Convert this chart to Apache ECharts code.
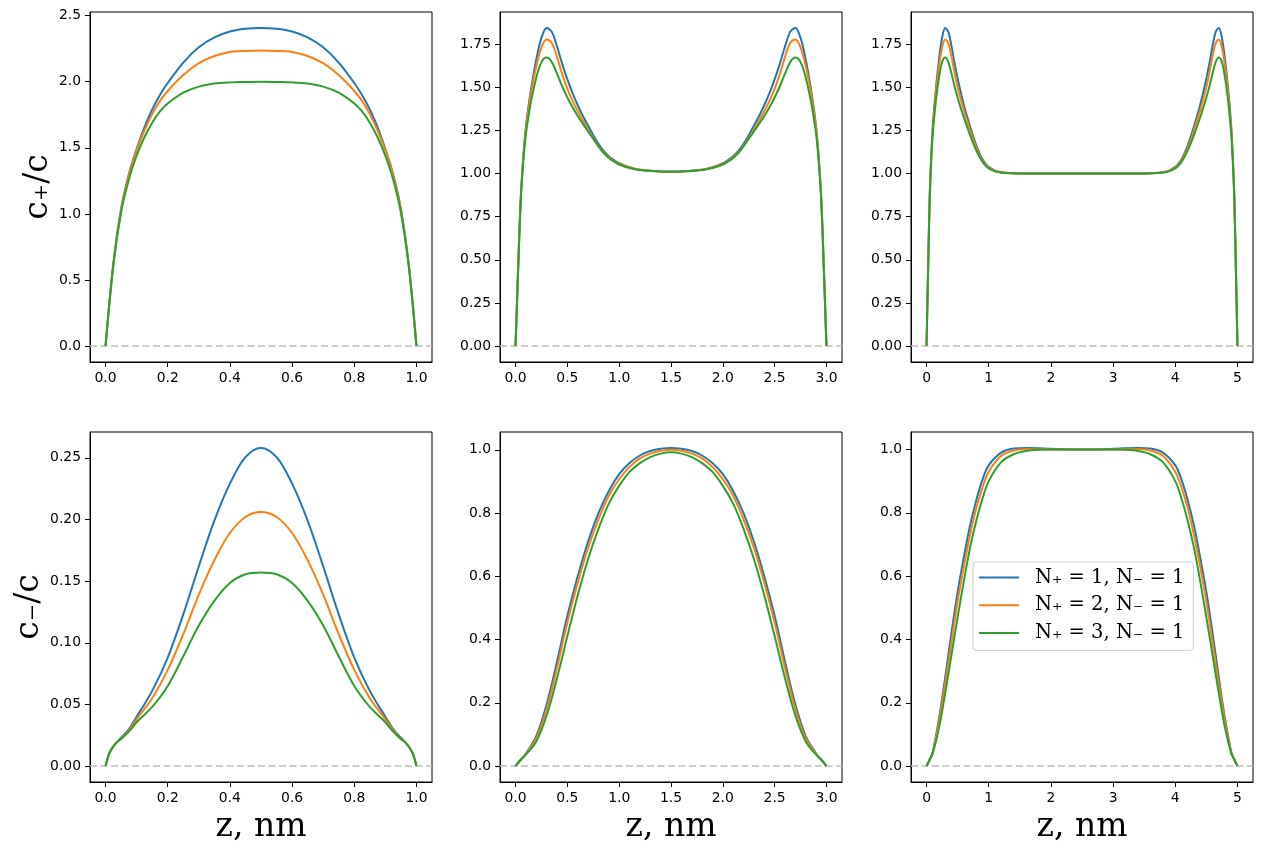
<!DOCTYPE html>
<html lang="en">
<head>
    <meta charset="UTF-8">
    <title>c+/c and c-/c profiles</title>
    <script src="https://cdn.jsdelivr.net/npm/echarts@6/dist/echarts.min.js"></script>
    <style>
        body { margin: 0; background: #fff; }
    </style>
</head>
<body>
<div id="main" style="width: 1262px;height:853px;"></div>
<script type="text/javascript">
    // series names / colours
    var names = ['N\u208A = 1, N\u208B = 1', 'N\u208A = 2, N\u208B = 1', 'N\u208A = 3, N\u208B = 1'];
    var colors = ['#1f77b4', '#ff7f0e', '#2ca02c'];

    // ---- top row: c+/c ----
    // L = 1 nm
    var zTop1 = [0, 0.025, 0.05, 0.075, 0.1, 0.125, 0.15, 0.175, 0.2, 0.25, 0.3, 0.35, 0.4, 0.45, 0.5,
                 0.55, 0.6, 0.65, 0.7, 0.75, 0.8, 0.825, 0.85, 0.875, 0.9, 0.925, 0.95, 0.975, 1.0];
    var cpL1_N1 = [0, 0.62, 1.04, 1.30, 1.49, 1.655, 1.79, 1.90, 1.99, 2.145, 2.26, 2.335, 2.38, 2.401, 2.407,
                   2.401, 2.38, 2.335, 2.26, 2.145, 1.99, 1.90, 1.79, 1.655, 1.49, 1.30, 1.04, 0.62, 0];
    var cpL1_N2 = [0, 0.62, 1.03, 1.29, 1.48, 1.63, 1.755, 1.855, 1.93, 2.05, 2.14, 2.195, 2.225, 2.233, 2.236,
                   2.233, 2.225, 2.195, 2.14, 2.05, 1.93, 1.855, 1.755, 1.63, 1.48, 1.29, 1.03, 0.62, 0];
    var cpL1_N3 = [0, 0.61, 1.01, 1.26, 1.44, 1.58, 1.69, 1.775, 1.835, 1.917, 1.963, 1.986, 1.995, 1.998, 2.0,
                   1.998, 1.995, 1.986, 1.963, 1.917, 1.835, 1.775, 1.69, 1.58, 1.44, 1.26, 1.01, 0.61, 0];

    // L = 3 nm
    var zTop3 = [0, 0.025, 0.05, 0.075, 0.1, 0.125, 0.15, 0.2, 0.25, 0.3, 0.35, 0.4, 0.45, 0.5, 0.55, 0.6, 0.65, 0.7, 0.75, 0.8,
                 0.85, 0.9, 0.95, 1.0, 1.1, 1.2, 1.35, 1.5,
                 1.65, 1.8, 1.9, 2.0, 2.05, 2.1, 2.15, 2.2, 2.25, 2.3, 2.35, 2.4, 2.45, 2.5, 2.55, 2.6, 2.65, 2.7, 2.75, 2.8,
                 2.85, 2.875, 2.9, 2.925, 2.95, 2.975, 3.0];
    var cpL3_N1 = [0, 0.45, 0.85, 1.10, 1.27, 1.39, 1.49, 1.66, 1.785, 1.843, 1.82, 1.735, 1.635, 1.545, 1.465, 1.395, 1.333, 1.277, 1.222, 1.172,
                   1.13, 1.10, 1.078, 1.06, 1.036, 1.022, 1.014, 1.011,
                   1.014, 1.022, 1.036, 1.06, 1.078, 1.10, 1.13, 1.172, 1.222, 1.277, 1.333, 1.395, 1.465, 1.545, 1.635, 1.735, 1.82, 1.843, 1.785, 1.66,
                   1.49, 1.39, 1.27, 1.10, 0.85, 0.45, 0];
    var cpL3_N2 = [0, 0.45, 0.85, 1.09, 1.26, 1.37, 1.47, 1.62, 1.73, 1.776, 1.755, 1.675, 1.575, 1.49, 1.42, 1.36, 1.305, 1.253, 1.205, 1.16,
                   1.122, 1.094, 1.072, 1.056, 1.034, 1.021, 1.013, 1.01,
                   1.013, 1.021, 1.034, 1.056, 1.072, 1.094, 1.122, 1.16, 1.205, 1.253, 1.305, 1.36, 1.42, 1.49, 1.575, 1.675, 1.755, 1.776, 1.73, 1.62,
                   1.47, 1.37, 1.26, 1.09, 0.85, 0.45, 0];
    var cpL3_N3 = [0, 0.44, 0.84, 1.07, 1.23, 1.33, 1.42, 1.555, 1.645, 1.671, 1.645, 1.578, 1.505, 1.44, 1.383, 1.333, 1.287, 1.243, 1.20, 1.157,
                   1.118, 1.09, 1.068, 1.052, 1.032, 1.02, 1.013, 1.01,
                   1.013, 1.02, 1.032, 1.052, 1.068, 1.09, 1.118, 1.157, 1.20, 1.243, 1.287, 1.333, 1.383, 1.44, 1.505, 1.578, 1.645, 1.671, 1.645, 1.555,
                   1.42, 1.33, 1.23, 1.07, 0.84, 0.44, 0];

    // L = 5 nm
    var zTop5 = [0, 0.025, 0.05, 0.075, 0.1, 0.125, 0.15, 0.2, 0.25, 0.3, 0.35, 0.4, 0.45, 0.5, 0.55, 0.6, 0.65, 0.7, 0.75, 0.8,
                 0.85, 0.9, 0.95, 1.0, 1.1, 1.2, 1.35, 1.5, 1.75, 2.0, 2.5,
                 3.0, 3.25, 3.5, 3.65, 3.8, 3.9, 4.0, 4.05, 4.1, 4.15, 4.2, 4.25, 4.3, 4.35, 4.4, 4.45, 4.5, 4.55, 4.6, 4.65,
                 4.7, 4.75, 4.8, 4.85, 4.875, 4.9, 4.925, 4.95, 4.975, 5.0];
    var cpL5_N1 = [0, 0.45, 0.86, 1.10, 1.27, 1.39, 1.49, 1.66, 1.785, 1.843, 1.82, 1.74, 1.64, 1.55, 1.47, 1.397, 1.332, 1.272, 1.215, 1.163,
                   1.118, 1.082, 1.056, 1.038, 1.016, 1.007, 1.002, 1.0, 1.0, 1.0, 1.0,
                   1.0, 1.0, 1.0, 1.002, 1.007, 1.016, 1.038, 1.056, 1.082, 1.118, 1.163, 1.215, 1.272, 1.332, 1.397, 1.47, 1.55, 1.64, 1.74, 1.82,
                   1.843, 1.785, 1.66, 1.49, 1.39, 1.27, 1.10, 0.86, 0.45, 0];
    var cpL5_N2 = [0, 0.45, 0.85, 1.09, 1.26, 1.37, 1.47, 1.62, 1.73, 1.776, 1.755, 1.68, 1.585, 1.50, 1.43, 1.366, 1.306, 1.25, 1.197, 1.149,
                   1.107, 1.075, 1.051, 1.034, 1.015, 1.006, 1.002, 1.0, 1.0, 1.0, 1.0,
                   1.0, 1.0, 1.0, 1.002, 1.006, 1.015, 1.034, 1.051, 1.075, 1.107, 1.149, 1.197, 1.25, 1.306, 1.366, 1.43, 1.50, 1.585, 1.68, 1.755,
                   1.776, 1.73, 1.62, 1.47, 1.37, 1.26, 1.09, 0.85, 0.45, 0];
    var cpL5_N3 = [0, 0.44, 0.84, 1.07, 1.23, 1.33, 1.42, 1.555, 1.645, 1.671, 1.645, 1.58, 1.505, 1.44, 1.38, 1.325, 1.272, 1.222, 1.176, 1.134,
                   1.097, 1.067, 1.045, 1.029, 1.012, 1.005, 1.001, 1.0, 1.0, 1.0, 1.0,
                   1.0, 1.0, 1.0, 1.001, 1.005, 1.012, 1.029, 1.045, 1.067, 1.097, 1.134, 1.176, 1.222, 1.272, 1.325, 1.38, 1.44, 1.505, 1.58, 1.645,
                   1.671, 1.645, 1.555, 1.42, 1.33, 1.23, 1.07, 0.84, 0.44, 0];

    // ---- bottom row: c-/c ----
    var zBot1 = [0, 0.01, 0.02, 0.035, 0.05, 0.075, 0.1, 0.15, 0.2, 0.25, 0.3, 0.35, 0.4, 0.45, 0.5,
                 0.55, 0.6, 0.65, 0.7, 0.75, 0.8, 0.85, 0.9, 0.925, 0.95, 0.965, 0.98, 0.99, 1.0];
    var cmL1_N1 = [0, 0.009, 0.014, 0.019, 0.023, 0.030, 0.040, 0.061, 0.088, 0.123, 0.162, 0.199, 0.229, 0.2505, 0.258,
                   0.2505, 0.229, 0.199, 0.162, 0.123, 0.088, 0.061, 0.040, 0.030, 0.023, 0.019, 0.014, 0.009, 0];
    var cmL1_N2 = [0, 0.009, 0.014, 0.019, 0.022, 0.029, 0.038, 0.055, 0.078, 0.107, 0.139, 0.167, 0.189, 0.202, 0.206,
                   0.202, 0.189, 0.167, 0.139, 0.107, 0.078, 0.055, 0.038, 0.029, 0.022, 0.019, 0.014, 0.009, 0];
    var cmL1_N3 = [0, 0.009, 0.014, 0.019, 0.022, 0.028, 0.0355, 0.048, 0.065, 0.089, 0.114, 0.134, 0.1485, 0.1555, 0.157,
                   0.1555, 0.1485, 0.134, 0.114, 0.089, 0.065, 0.048, 0.0355, 0.028, 0.022, 0.019, 0.014, 0.009, 0];

    var zBot3 = [0, 0.05, 0.1, 0.2, 0.3, 0.4, 0.5, 0.6, 0.7, 0.8, 0.9, 1.0, 1.1, 1.2, 1.3, 1.4, 1.5,
                 1.6, 1.7, 1.8, 1.9, 2.0, 2.1, 2.2, 2.3, 2.4, 2.5, 2.6, 2.7, 2.8, 2.9, 2.95, 3.0];
    var cmL3_N1 = [0, 0.02, 0.04, 0.095, 0.195, 0.33, 0.475, 0.60, 0.71, 0.80, 0.87, 0.923, 0.958, 0.982, 0.996, 1.003, 1.006,
                   1.003, 0.996, 0.982, 0.958, 0.923, 0.87, 0.80, 0.71, 0.60, 0.475, 0.33, 0.195, 0.095, 0.04, 0.02, 0];
    var cmL3_N2 = [0, 0.02, 0.038, 0.088, 0.18, 0.31, 0.454, 0.58, 0.69, 0.78, 0.855, 0.907, 0.946, 0.973, 0.988, 0.997, 1.0,
                   0.997, 0.988, 0.973, 0.946, 0.907, 0.855, 0.78, 0.69, 0.58, 0.454, 0.31, 0.18, 0.088, 0.038, 0.02, 0];
    var cmL3_N3 = [0, 0.02, 0.036, 0.078, 0.16, 0.278, 0.411, 0.54, 0.655, 0.75, 0.83, 0.886, 0.93, 0.958, 0.977, 0.988, 0.992,
                   0.988, 0.977, 0.958, 0.93, 0.886, 0.83, 0.75, 0.655, 0.54, 0.411, 0.278, 0.16, 0.078, 0.036, 0.02, 0];

    var zBot5 = [0, 0.05, 0.1, 0.2, 0.3, 0.4, 0.5, 0.6, 0.7, 0.8, 0.9, 1.0, 1.2, 1.4, 1.6, 1.8, 2.0, 2.5,
                 3.0, 3.2, 3.4, 3.6, 3.8, 4.0, 4.1, 4.2, 4.3, 4.4, 4.5, 4.6, 4.7, 4.8, 4.9, 4.95, 5.0];
    var cmL5_N1 = [0, 0.02, 0.045, 0.15, 0.28, 0.42, 0.55, 0.66, 0.76, 0.84, 0.905, 0.95, 0.99, 1.003, 1.005, 1.004, 1.002, 1.0,
                   1.002, 1.004, 1.005, 1.003, 0.99, 0.95, 0.905, 0.84, 0.76, 0.66, 0.55, 0.42, 0.28, 0.15, 0.045, 0.02, 0];
    var cmL5_N2 = [0, 0.02, 0.043, 0.14, 0.26, 0.39, 0.52, 0.63, 0.73, 0.815, 0.88, 0.93, 0.98, 0.997, 1.001, 1.001, 1.0, 1.0,
                   1.0, 1.001, 1.001, 0.997, 0.98, 0.93, 0.88, 0.815, 0.73, 0.63, 0.52, 0.39, 0.26, 0.14, 0.043, 0.02, 0];
    var cmL5_N3 = [0, 0.02, 0.04, 0.12, 0.23, 0.35, 0.47, 0.585, 0.69, 0.775, 0.845, 0.90, 0.96, 0.985, 0.995, 0.999, 1.0, 1.0,
                   1.0, 0.999, 0.995, 0.985, 0.96, 0.90, 0.845, 0.775, 0.69, 0.585, 0.47, 0.35, 0.23, 0.12, 0.04, 0.02, 0];

    // tick labels
    var xTicks1 = [0, 0.2, 0.4, 0.6, 0.8, 1.0];
    var xTicks3 = [0, 0.5, 1.0, 1.5, 2.0, 2.5, 3.0];
    var xTicks5 = [0, 1, 2, 3, 4, 5];
    var yTicksTop1 = [0, 0.5, 1.0, 1.5, 2.0, 2.5];
    var yTicksTop35 = [0, 0.25, 0.5, 0.75, 1.0, 1.25, 1.5, 1.75];
    var yTicksBot1 = [0, 0.05, 0.1, 0.15, 0.2, 0.25];
    var yTicksBot35 = [0, 0.2, 0.4, 0.6, 0.8, 1.0];

    var panels = [
        {x: zTop1, ys: [cpL1_N1, cpL1_N2, cpL1_N3], xr: [-0.05, 1.05], yr: [-0.1204, 2.5274], xt: xTicks1, xd: 1, yt: yTicksTop1, yd: 1},
        {x: zTop3, ys: [cpL3_N1, cpL3_N2, cpL3_N3], xr: [-0.15, 3.15], yr: [-0.0922, 1.9352], xt: xTicks3, xd: 1, yt: yTicksTop35, yd: 2},
        {x: zTop5, ys: [cpL5_N1, cpL5_N2, cpL5_N3], xr: [-0.25, 5.25], yr: [-0.0922, 1.9352], xt: xTicks5, xd: 0, yt: yTicksTop35, yd: 2},
        {x: zBot1, ys: [cmL1_N1, cmL1_N2, cmL1_N3], xr: [-0.05, 1.05], yr: [-0.0129, 0.2709], xt: xTicks1, xd: 1, yt: yTicksBot1, yd: 2},
        {x: zBot3, ys: [cmL3_N1, cmL3_N2, cmL3_N3], xr: [-0.15, 3.15], yr: [-0.0503, 1.0563], xt: xTicks3, xd: 1, yt: yTicksBot35, yd: 1},
        {x: zBot5, ys: [cmL5_N1, cmL5_N2, cmL5_N3], xr: [-0.25, 5.25], yr: [-0.0503, 1.0553], xt: xTicks5, xd: 0, yt: yTicksBot35, yd: 1}
    ];

    var lefts = [90, 500, 911];
    var tops = [12, 432];
    var tickFont = {fontFamily: 'DejaVu Sans', fontSize: 13.9, color: '#000'};

    var grids = [], xAxes = [], yAxes = [], series = [];
    panels.forEach(function (p, k) {
        var row = Math.floor(k / 3), col = k % 3;
        grids.push({left: lefts[col], top: tops[row], width: 342, height: 350,
                    show: true, borderColor: '#000', borderWidth: 1});
        xAxes.push({
            type: 'value', gridIndex: k, min: p.xr[0], max: p.xr[1],
            name: row === 1 ? 'z, nm' : '', nameLocation: 'middle', nameGap: 29,
            nameTextStyle: {fontFamily: 'DejaVu Serif', fontSize: 33, color: '#000'},
            axisLine: {show: true, onZero: false, lineStyle: {color: '#000', width: 1}},
            axisTick: {show: true, length: 5, customValues: p.xt, lineStyle: {color: '#000'}},
            axisLabel: Object.assign({margin: 9, customValues: p.xt,
                formatter: (function (d) { return function (v) { return v.toFixed(d); }; })(p.xd)}, tickFont),
            splitLine: {show: false}
        });
        yAxes.push({
            type: 'value', gridIndex: k, min: p.yr[0], max: p.yr[1],
            name: col === 0 ? (row === 0 ? 'c\u208A/c' : 'c\u208B/c') : '',
            nameLocation: 'middle', nameGap: 33, nameRotate: 90,
            nameTextStyle: {fontFamily: 'DejaVu Serif', fontSize: 33, color: '#000'},
            axisLine: {show: true, onZero: false, lineStyle: {color: '#000', width: 1}},
            axisTick: {show: true, length: 5, customValues: p.yt, lineStyle: {color: '#000'}},
            axisLabel: Object.assign({margin: 9, customValues: p.yt,
                formatter: (function (d) { return function (v) { return v.toFixed(d); }; })(p.yd)}, tickFont),
            splitLine: {show: false}
        });
        p.ys.forEach(function (ys, j) {
            var s = {
                name: names[j], type: 'line', xAxisIndex: k, yAxisIndex: k,
                data: p.x.map(function (z, i) { return [z, ys[i]]; }),
                showSymbol: false, smooth: 0.35, color: colors[j],
                lineStyle: {width: 2, color: colors[j]}, z: 3 + j
            };
            if (j === 0) {
                // grey dashed zero line
                s.markLine = {silent: true, symbol: ['none', 'none'], label: {show: false},
                    lineStyle: {color: '#bdbdbd', type: [7, 3.5], width: 1.5}, data: [{yAxis: 0}]};
            }
            series.push(s);
        });
    });

    var myChart = echarts.init(document.getElementById('main'));
    var option = {
        animation: false,
        backgroundColor: '#fff',
        grid: grids,
        xAxis: xAxes,
        yAxis: yAxes,
        legend: {
            data: names, orient: 'vertical', left: 973, top: 562,
            icon: 'rect', itemWidth: 40, itemHeight: 2, itemGap: 6.7,
            padding: [5, 9, 7, 6], borderColor: '#cccccc', borderWidth: 1, borderRadius: 3,
            backgroundColor: 'rgba(255,255,255,0.8)',
            textStyle: {fontFamily: 'DejaVu Serif', fontSize: 19.5, color: '#000', lineHeight: 21, padding: [0, 0, 0, 11]}
        },
        series: series
    };
    myChart.setOption(option);
</script>
</body>
</html>
